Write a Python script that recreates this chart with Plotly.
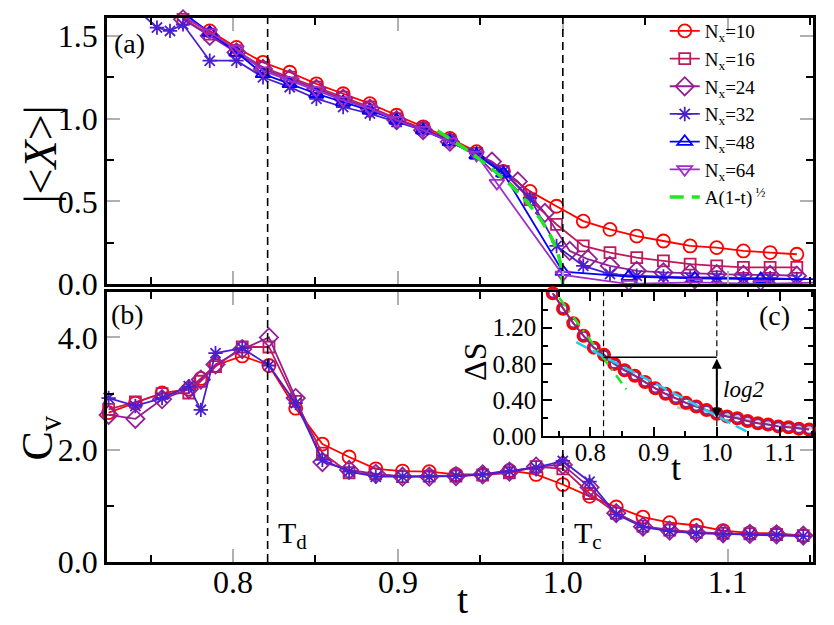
import numpy as np
import plotly.graph_objects as go

SERIF = "Liberation Serif"

# ---------------- data ----------------
# panel (a): |<X>| vs t
T_A = [0.7697, 0.7859, 0.8021, 0.8182, 0.8344, 0.8506, 0.8668, 0.8830, 0.8992, 0.9153,
       0.9315, 0.9477, 0.9639, 0.9801, 0.9962, 1.0124, 1.0286, 1.0448, 1.0610, 1.0772,
       1.0933, 1.1095, 1.1257, 1.1419]
X_N10 = [1.61, 1.53, 1.43, 1.34, 1.28, 1.21, 1.15, 1.09, 1.02, 0.95, 0.88, 0.80, 0.68, 0.56,
         0.47, 0.38, 0.33, 0.29, 0.26, 0.23, 0.22, 0.20, 0.19, 0.18]
X_N16 = [1.60, 1.51, 1.41, 1.31, 1.25, 1.19, 1.13, 1.07, 1.00, 0.94, 0.87, 0.79, 0.68, 0.51,
         0.36, 0.23, 0.19, 0.16, 0.14, 0.12, 0.11, 0.10, 0.10, 0.10]
T_A24 = [0.7697, 0.7859, 0.8021, 0.8182, 0.8344, 0.8506, 0.8668, 0.8830, 0.8992, 0.9153,
         0.9315, 0.9570, 0.9727, 0.9891, 1.0042, 1.0152, 1.0285, 1.0448, 1.0610, 1.0772,
         1.0933, 1.1095, 1.1257, 1.1419]
X_N24 = [1.60, 1.50, 1.40, 1.30, 1.24, 1.18, 1.12, 1.06, 0.99, 0.93, 0.86, 0.74, 0.62, 0.43,
         0.20, 0.15, 0.11, 0.08, 0.07, 0.065, 0.06, 0.055, 0.055, 0.05]
T_A32 = [0.7303, 0.7539, 0.7618] + T_A
X_N32 = [1.76, 1.55, 1.53, 1.57, 1.35, 1.35, 1.25, 1.19, 1.12, 1.07, 1.03, 0.98, 0.93, 0.87,
         0.79, 0.68, 0.52, 0.23, 0.11, 0.06, 0.05, 0.045, 0.04, 0.04, 0.035, 0.035, 0.03]
T_A48 = T_A[:12] + [0.9639, 1.0, 1.04, 1.08, 1.12, 1.16]
X_N48 = [1.64, 1.52, 1.40, 1.27, 1.21, 1.15, 1.10, 1.05, 0.99, 0.93, 0.86, 0.78,
         0.67, 0.075, 0.045, 0.035, 0.03, 0.03]
T_A64 = T_A[:12] + [0.9600, 1.0, 1.04, 1.08, 1.12, 1.16]
X_N64 = [1.62, 1.52, 1.42, 1.29, 1.23, 1.17, 1.11, 1.06, 0.99, 0.93, 0.86, 0.78,
         0.61, 0.055, 0.0, 0.01, 0.0, 0.01]
FIT_A = 3.36           # A in A(1-t)^1/2
FIT_T0 = 0.924         # start of the fit curve

# panel (b): C_v vs t
T_B = [0.7246, 0.7408, 0.7570, 0.7732, 0.7805, 0.7894, 0.8056, 0.8218, 0.8380, 0.8542,
       0.8704, 0.8866, 0.9028, 0.9190, 0.9352, 0.9514, 0.9676, 0.9838, 1.0000, 1.0162,
       1.0324, 1.0486, 1.0648, 1.0810, 1.0972, 1.1134, 1.1296, 1.1458]
C_N10 = [2.66, 2.83, 3.01, 3.08, 3.27, 3.50, 3.67, 3.50, 2.74, 2.10, 1.87, 1.66, 1.62, 1.61,
         1.56, 1.56, 1.63, 1.56, 1.38, 1.17, 0.98, 0.80, 0.70, 0.65, 0.56, 0.52, 0.51, 0.47]
C_N16 = [2.72, 2.85, 3.00, 3.01, 3.22, 3.48, 3.83, 3.83, 2.86, 1.94, 1.59, 1.57, 1.52, 1.53,
         1.53, 1.55, 1.59, 1.70, 1.66, 1.22, 0.87, 0.64, 0.57, 0.53, 0.51, 0.50, 0.49, 0.47]
C_N24 = [2.62, 2.55, 2.90, 3.08, 3.25, 3.52, 3.79, 4.00, 2.92, 1.78, 1.64, 1.57, 1.52, 1.52,
         1.53, 1.56, 1.61, 1.70, 1.73, 1.33, 0.87, 0.63, 0.56, 0.52, 0.51, 0.50, 0.49, 0.47]
C_N32 = [2.92, 2.78, 2.92, 3.13, 2.71, 3.72, 3.81, 3.50, 2.83, 1.82, 1.61, 1.52, 1.52, 1.52,
         1.53, 1.56, 1.62, 1.68, 1.80, 1.43, 0.85, 0.62, 0.55, 0.51, 0.50, 0.49, 0.48, 0.46]

# inset (c): Delta S vs t
T_C = [0.7408, 0.7570, 0.7732, 0.7894, 0.8056, 0.8218, 0.8380, 0.8542, 0.8704, 0.8866,
       0.9028, 0.9190, 0.9352, 0.9514, 0.9676, 0.9838, 1.0000, 1.0162, 1.0324, 1.0486,
       1.0648, 1.0810, 1.0972, 1.1134, 1.1296, 1.1458]
DS = [1.58, 1.41, 1.25, 1.11, 0.98, 0.90, 0.80, 0.73, 0.67, 0.60, 0.53, 0.47, 0.42, 0.37,
      0.33, 0.29, 0.25, 0.22, 0.20, 0.17, 0.145, 0.13, 0.11, 0.10, 0.085, 0.075]
GREEN_T = [0.751, 0.857]
GREEN_V = [1.53, 0.52]
CYAN_T = [0.778, 1.048]
CYAN_V = [1.04, 0.05]
GREY_T = [0.937, 1.151]
GREY_V = [0.32, 0.09]
LOG2_TOP = 0.875
LOG2_BOT = 0.20

T_D = 0.821
T_CRIT = 1.0

# ---------------- style ----------------
C10, C16, C24, C32, C48, C64 = "#ff0000", "#c2185b", "#931f95", "#4a1fd0", "#0000ff", "#9b2fc8"
STYLES = [
    ("N<sub>x</sub>=10", C10, "circle-open", 13),
    ("N<sub>x</sub>=16", C16, "square-open", 11),
    ("N<sub>x</sub>=24", C24, "diamond-open", 14),
    ("N<sub>x</sub>=32", C32, "asterisk-open", 12),
    ("N<sub>x</sub>=48", C48, "triangle-up-open", 13),
    ("N<sub>x</sub>=64", C64, "triangle-down-open", 13),
]

fig = go.Figure()


def add(x, y, sty, xa, ya, legend):
    name, col, sym, size = sty
    fig.add_trace(go.Scatter(
        x=x, y=y, mode="lines+markers", name=name, xaxis=xa, yaxis=ya,
        line=dict(color=col, width=1.8),
        marker=dict(symbol=sym, size=size, color=col, line=dict(color=col, width=1.8)),
        showlegend=legend, cliponaxis=False))


panel_a = [(T_A, X_N10), (T_A, X_N16), (T_A24, X_N24), (T_A32, X_N32), (T_A48, X_N48), (T_A64, X_N64)]
for sty, (tx, vy) in zip(STYLES, panel_a):
    add(tx, vy, sty, "x", "y", True)

tf = np.linspace(FIT_T0, 1.0, 60)
fig.add_trace(go.Scatter(x=tf, y=FIT_A * np.sqrt(1 - tf), mode="lines",
                         name="A(1-t)<sup> ½</sup>", xaxis="x", yaxis="y",
                         line=dict(color="#22e622", width=3.5, dash="14px,8px")))

for sty, vy in zip(STYLES[:4], [C_N10, C_N16, C_N24, C_N32]):
    add(T_B, vy, sty, "x2", "y2", False)

# inset
fig.add_trace(go.Scatter(x=GREY_T, y=GREY_V, mode="lines", xaxis="x3", yaxis="y3", showlegend=False,
                         line=dict(color="#c8c8c8", width=3)))
fig.add_trace(go.Scatter(x=T_C, y=DS, mode="lines+markers", xaxis="x3", yaxis="y3", showlegend=False,
                         line=dict(color=C10, width=2),
                         marker=dict(symbol="circle-open", size=11, color=C10, line=dict(color=C10, width=3)),
                         cliponaxis=False))
fig.add_trace(go.Scatter(x=T_C, y=DS, mode="lines+markers", xaxis="x3", yaxis="y3", showlegend=False,
                         line=dict(color="#7a2a9a", width=1.5),
                         marker=dict(symbol="circle-open", size=8, color="#7a2a9a", line=dict(color="#7a2a9a", width=1.6)),
                         cliponaxis=False))
fig.add_trace(go.Scatter(x=GREEN_T, y=GREEN_V, mode="lines", xaxis="x3", yaxis="y3", showlegend=False,
                         line=dict(color="#22e622", width=2.5, dash="10px,6px,2px,6px")))
fig.add_trace(go.Scatter(x=CYAN_T, y=CYAN_V, mode="lines", xaxis="x3", yaxis="y3", showlegend=False,
                         line=dict(color="#22ccee", width=2.5, dash="12px,6px")))
fig.add_trace(go.Scatter(x=[T_D, T_CRIT], y=[LOG2_TOP, LOG2_TOP], mode="lines", xaxis="x3", yaxis="y3",
                         showlegend=False, line=dict(color="black", width=1.5)))

# ---------------- axes ----------------
XR = [0.7236, 1.1517]


def axis(rng, dtick, minor_dtick, fmt, labels=True, size=32, major_col="#b0b0b0", tlen=13, mlen=7, **kw):
    d = dict(range=rng, dtick=dtick, tick0=0, tickformat=fmt, showticklabels=labels,
             showline=True, linewidth=2.5, linecolor="black", mirror="ticks",
             ticks="inside", ticklen=tlen, tickwidth=1.5, tickcolor=major_col,
             minor=dict(ticks="inside", ticklen=mlen, tickwidth=1.5, tickcolor="black", dtick=minor_dtick),
             showgrid=False, zeroline=False, automargin=False,
             tickfont=dict(family=SERIF, size=size, color="black"))
    d.update(kw)
    return d


fig.update_layout(
    width=834, height=625,
    margin=dict(l=107, r=21, t=12, b=63),
    paper_bgcolor="white", plot_bgcolor="white",
    xaxis=axis(XR, 0.1, 0.05, ".1f", labels=False, domain=[0, 1], anchor="y"),
    yaxis=axis([0, 1.608], 0.5, 0.25, ".1f", domain=[0.511, 1], anchor="x"),
    xaxis2=axis(XR, 0.1, 0.05, ".1f", domain=[0, 1], anchor="y2", ticklabelstandoff=-10),
    yaxis2=axis([0, 4.81], 2, 1, ".1f", domain=[0, 0.4964], anchor="x2"),
    xaxis3=axis([0.7258, 1.152], 0.1, 0.05, ".1f", size=25, major_col="black", tlen=9, mlen=5,
                domain=[0.618, 1.0], anchor="y3", linewidth=2, ticklabelstandoff=-7),
    yaxis3=axis([0, 1.595], 0.4, 0.2, ".2f", size=25, major_col="black", tlen=9, mlen=5,
                domain=[0.231, 0.4964], anchor="x3", linewidth=2),
    legend=dict(x=0.79, y=1.011, xanchor="left", yanchor="top", bgcolor="rgba(0,0,0,0)",
                font=dict(family=SERIF, size=19, color="black"), tracegroupgap=0),
    font=dict(family=SERIF, color="black"),
)

dash_main = dict(color="black", width=1.6, dash="8px,5px")
dash_in = dict(color="black", width=1.2, dash="6px,4px")
fig.add_shape(type="line", xref="x", yref="y domain", x0=T_D, x1=T_D, y0=0, y1=1, line=dash_main)
fig.add_shape(type="line", xref="x", yref="y domain", x0=T_CRIT, x1=T_CRIT, y0=0, y1=1, line=dash_main)
fig.add_shape(type="line", xref="x2", yref="y2 domain", x0=T_D, x1=T_D, y0=0, y1=1, line=dash_main)
fig.add_shape(type="line", xref="x2", yref="y2", x0=T_CRIT, x1=T_CRIT, y0=0, y1=2.22, line=dash_main)
fig.add_shape(type="line", xref="x3", yref="y3 domain", x0=T_D, x1=T_D, y0=0, y1=1, line=dash_in)
fig.add_shape(type="line", xref="x3", yref="y3 domain", x0=T_CRIT, x1=T_CRIT, y0=0, y1=1, line=dash_in)

ann = [
    dict(text="(a)", x=0.0325, y=0.953, size=28),
    dict(text="(b)", x=0.0297, y=0.4545, size=28),
    dict(text="(c)", x=0.945, y=0.4527, size=28),
    dict(text="|&lt;<i>X</i>&gt;|", x=-0.0948, y=0.749, size=46, angle=-90),
    dict(text="C<sub>v</sub>", x=-0.0948, y=0.227, size=44, angle=-90),
    dict(text="t", x=0.5035, y=-0.069, size=40),
    dict(text="ΔS", x=0.522, y=0.367, size=32, angle=-90),
    dict(text="t", x=0.806, y=0.172, size=36),
]
for a in ann:
    fig.add_annotation(text=a["text"], x=a["x"], y=a["y"], xref="paper", yref="paper",
                       xanchor="center", yanchor="middle",
                       showarrow=False, textangle=a.get("angle", 0),
                       font=dict(family=SERIF, size=a["size"], color="black"))
for txt, xp in [("T<sub>d</sub>", 0.240), ("T<sub>c</sub>", 0.659)]:
    fig.add_annotation(text=txt, x=xp, y=0.049, xref="paper", yref="paper", xanchor="left",
                       yanchor="middle", showarrow=False, font=dict(family=SERIF, size=30, color="black"))
fig.add_annotation(text="<i>log2</i>", x=0.870, y=0.318, xref="paper", yref="paper", xanchor="left",
                   yanchor="middle", showarrow=False, font=dict(family=SERIF, size=23, color="black"))
fig.add_annotation(x=T_CRIT, y=LOG2_BOT, ax=T_CRIT, ay=LOG2_TOP, xref="x3", yref="y3",
                   axref="x3", ayref="y3", text="", showarrow=True, arrowhead=2, arrowside="end+start",
                   arrowsize=1, arrowwidth=2, arrowcolor="black")

fig.write_html("out.html")
